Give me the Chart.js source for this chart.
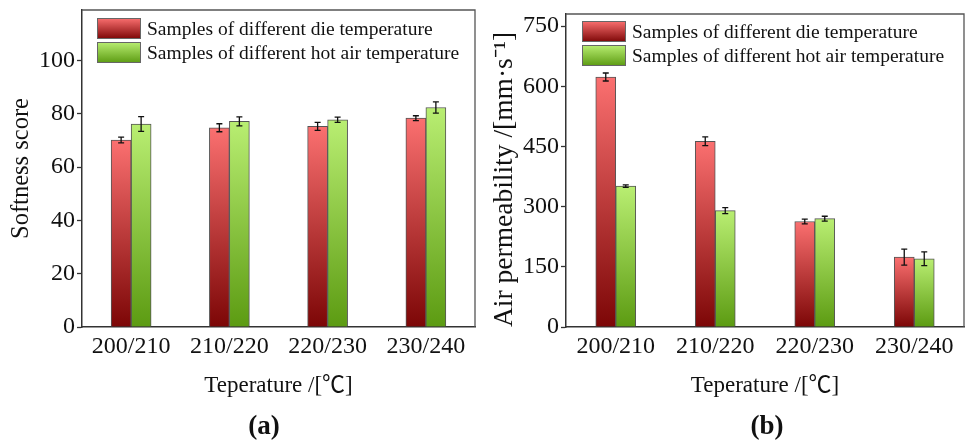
<!DOCTYPE html>
<html>
<head>
<meta charset="utf-8">
<title>Softness and air permeability</title>
<script src="https://cdn.jsdelivr.net/npm/chart.js@4/dist/chart.umd.min.js"></script>
<style>
  html, body { margin: 0; padding: 0; background: #fff; }
  body { width: 968px; height: 447px; position: relative; overflow: hidden; }
  .panel { position: absolute; top: 0; width: 484px; height: 447px; }
  #panelA { left: 0; }
  #panelB { left: 484px; }
  .tag { position: absolute; top: 425px; transform: translate(-50%, -50%);
         font: bold 27px 'Liberation Serif', serif; color: #111; line-height: 1; }
</style>
</head>
<body>
<div class="panel" id="panelA"><canvas id="chartA" width="484" height="447"></canvas></div>
<div class="panel" id="panelB"><canvas id="chartB" width="484" height="447"></canvas></div>
<div class="tag" style="left:264px">(a)</div>
<div class="tag" style="left:767px">(b)</div>
<script>
// ---- data ----
const categories = ['200/210', '210/220', '220/230', '230/240'];
const seriesNames = ['Samples of different die temperature', 'Samples of different hot air temperature'];

const softnessDie = [70.2, 74.8, 75.3, 78.4];
const softnessDieErr = [1.1, 1.5, 1.5, 0.9];
const softnessHotAir = [76.2, 77.2, 77.8, 82.4];
const softnessHotAirErr = [2.8, 1.7, 1.0, 2.1];
const softnessTicks = [0, 20, 40, 60, 80, 100];

const permDie = [623, 463, 263, 174];
const permDieErr = [10, 11, 6, 20];
const permHotAir = [351, 290, 270, 170];
const permHotAirErr = [3, 7.5, 6, 17];
const permTicks = [0, 150, 300, 450, 600, 750];

// ---- styling ----
const FONT = "'Liberation Serif', 'Noto Sans CJK SC', serif";
const RED = ['#fb7070', '#7c0606'];
const GREEN = ['#b9ee72', '#5c9b12'];

Chart.defaults.font.family = FONT;
Chart.defaults.color = '#111';

// Vertical gradient spanning each bar from its top down to the zero line
function barGradient(stops) {
  return (ctx) => {
    if (ctx.type !== 'data') return stops[0];
    const chart = ctx.chart;
    const y = chart.scales.y;
    if (!y || !isFinite(y.getPixelForValue(0))) return stops[0];
    const yTop = y.getPixelForValue(ctx.raw);
    const yBase = y.getPixelForValue(0);
    if (!isFinite(yTop) || yTop === yBase) return stops[0];
    const g = chart.ctx.createLinearGradient(0, yTop, 0, yBase);
    g.addColorStop(0, stops[0]);
    g.addColorStop(1, stops[1]);
    return g;
  };
}

// Error bars with short caps, drawn on top of the bars
const errorBars = {
  id: 'errorBars',
  afterDatasetsDraw(chart) {
    const { ctx } = chart;
    const y = chart.scales.y;
    ctx.save();
    ctx.strokeStyle = '#111';
    ctx.lineWidth = 1.3;
    chart.data.datasets.forEach((ds, i) => {
      const meta = chart.getDatasetMeta(i);
      meta.data.forEach((bar, j) => {
        const v = ds.data[j], e = ds.errors[j];
        const yHi = y.getPixelForValue(v + e);
        const yLo = y.getPixelForValue(v - e);
        const x = bar.x, cap = 3;
        ctx.beginPath();
        ctx.moveTo(x, yHi); ctx.lineTo(x, yLo);
        ctx.moveTo(x - cap, yHi); ctx.lineTo(x + cap, yHi);
        ctx.moveTo(x - cap, yLo); ctx.lineTo(x + cap, yLo);
        ctx.stroke();
      });
    });
    ctx.restore();
  }
};

// Thin frame along the top and right of the plot area
const frame = {
  id: 'frame',
  afterDraw(chart) {
    const { ctx, chartArea: a } = chart;
    ctx.save();
    ctx.strokeStyle = '#555';
    ctx.lineWidth = 1.3;
    ctx.beginPath();
    ctx.moveTo(a.left, a.top);
    ctx.lineTo(a.right, a.top);
    ctx.lineTo(a.right, a.bottom);
    ctx.stroke();
    ctx.restore();
  }
};

// Legend placed inside the plot, with gradient swatches
const insideLegend = {
  id: 'insideLegend',
  afterDraw(chart, args, opts) {
    const { ctx, chartArea: a } = chart;
    const boxW = 44, boxH = 21, step = 24;
    const x0 = a.left + opts.dx, y0 = a.top + opts.dy;
    ctx.save();
    chart.data.datasets.forEach((ds, i) => {
      const by = y0 + i * step;
      const g = ctx.createLinearGradient(0, by, 0, by + boxH);
      g.addColorStop(0, ds.swatch[0]);
      g.addColorStop(1, ds.swatch[1]);
      ctx.fillStyle = g;
      ctx.fillRect(x0, by, boxW, boxH);
      ctx.strokeStyle = '#666';
      ctx.lineWidth = 1;
      ctx.strokeRect(x0 + 0.5, by + 0.5, boxW - 1, boxH - 1);
      ctx.fillStyle = '#111';
      ctx.font = '19.5px ' + FONT;
      ctx.textBaseline = 'middle';
      ctx.textAlign = 'left';
      ctx.fillText(ds.label, x0 + boxW + 6, by + boxH / 2 + 1);
    });
    ctx.restore();
  }
};

function makeChart(canvasId, cfg) {
  const datasets = [
    { label: seriesNames[0], data: cfg.die, errors: cfg.dieErr, swatch: RED,
      backgroundColor: barGradient(RED) },
    { label: seriesNames[1], data: cfg.hot, errors: cfg.hotErr, swatch: GREEN,
      backgroundColor: barGradient(GREEN) }
  ].map(d => Object.assign(d, { borderColor: '#555', borderWidth: 1, barThickness: 20 }));

  return new Chart(document.getElementById(canvasId), {
    type: 'bar',
    data: { labels: categories, datasets },
    plugins: [errorBars, frame, insideLegend],
    options: {
      responsive: false,
      animation: false,
      layout: { padding: { left: 0, right: cfg.padRight, top: cfg.padTop, bottom: 0 } },
      plugins: {
        legend: { display: false },
        tooltip: { enabled: false },
        insideLegend: { dx: cfg.legendDx, dy: cfg.legendDy }
      },
      scales: {
        x: {
          offset: true,
          grid: { display: false, drawTicks: false },
          border: { display: true, color: '#333', width: 1.5 },
          ticks: { font: { size: 24 }, color: '#111', padding: 5, maxRotation: 0 },
          title: { display: true, text: 'Teperature /[℃]', font: { size: 23 }, color: '#111',
                   padding: { top: 0, bottom: 47 } },
          afterFit(axis) { axis.height = 120; axis.paddingLeft = 0; axis.paddingRight = 0; }
        },
        y: {
          min: 0,
          max: cfg.max,
          afterBuildTicks(axis) { axis.ticks = cfg.ticks.map(v => ({ value: v })); },
          afterFit(axis) { axis.width = 82; axis.paddingTop = 0; axis.paddingBottom = 0; },
          grid: { drawOnChartArea: false, drawTicks: true, tickLength: 5, color: '#333', tickWidth: 1.3 },
          border: { display: true, color: '#333', width: 1.5 },
          ticks: { font: { size: 24 }, color: '#111', padding: 2 },
          title: { display: true, text: cfg.yTitle, font: { size: cfg.yTitleSize }, color: '#111',
                   align: cfg.yTitleAlign, padding: { top: cfg.yTitlePad, bottom: 0 } }
        }
      }
    }
  });
}

makeChart('chartA', {
  die: softnessDie, dieErr: softnessDieErr, hot: softnessHotAir, hotErr: softnessHotAirErr,
  ticks: softnessTicks, max: 119, yTitle: 'Softness score', yTitleSize: 24.5,
  yTitleAlign: 'center', yTitlePad: 7,
  padTop: 10, padRight: 9, legendDx: 15, legendDy: 8
});

makeChart('chartB', {
  die: permDie, dieErr: permDieErr, hot: permHotAir, hotErr: permHotAirErr,
  ticks: permTicks, max: 780, yTitle: 'Air permeability /[mm·s⁻¹]', yTitleSize: 27.5,
  yTitleAlign: 'start', yTitlePad: 4,
  padTop: 14, padRight: 4, legendDx: 16, legendDy: 7
});
</script>
</body>
</html>
